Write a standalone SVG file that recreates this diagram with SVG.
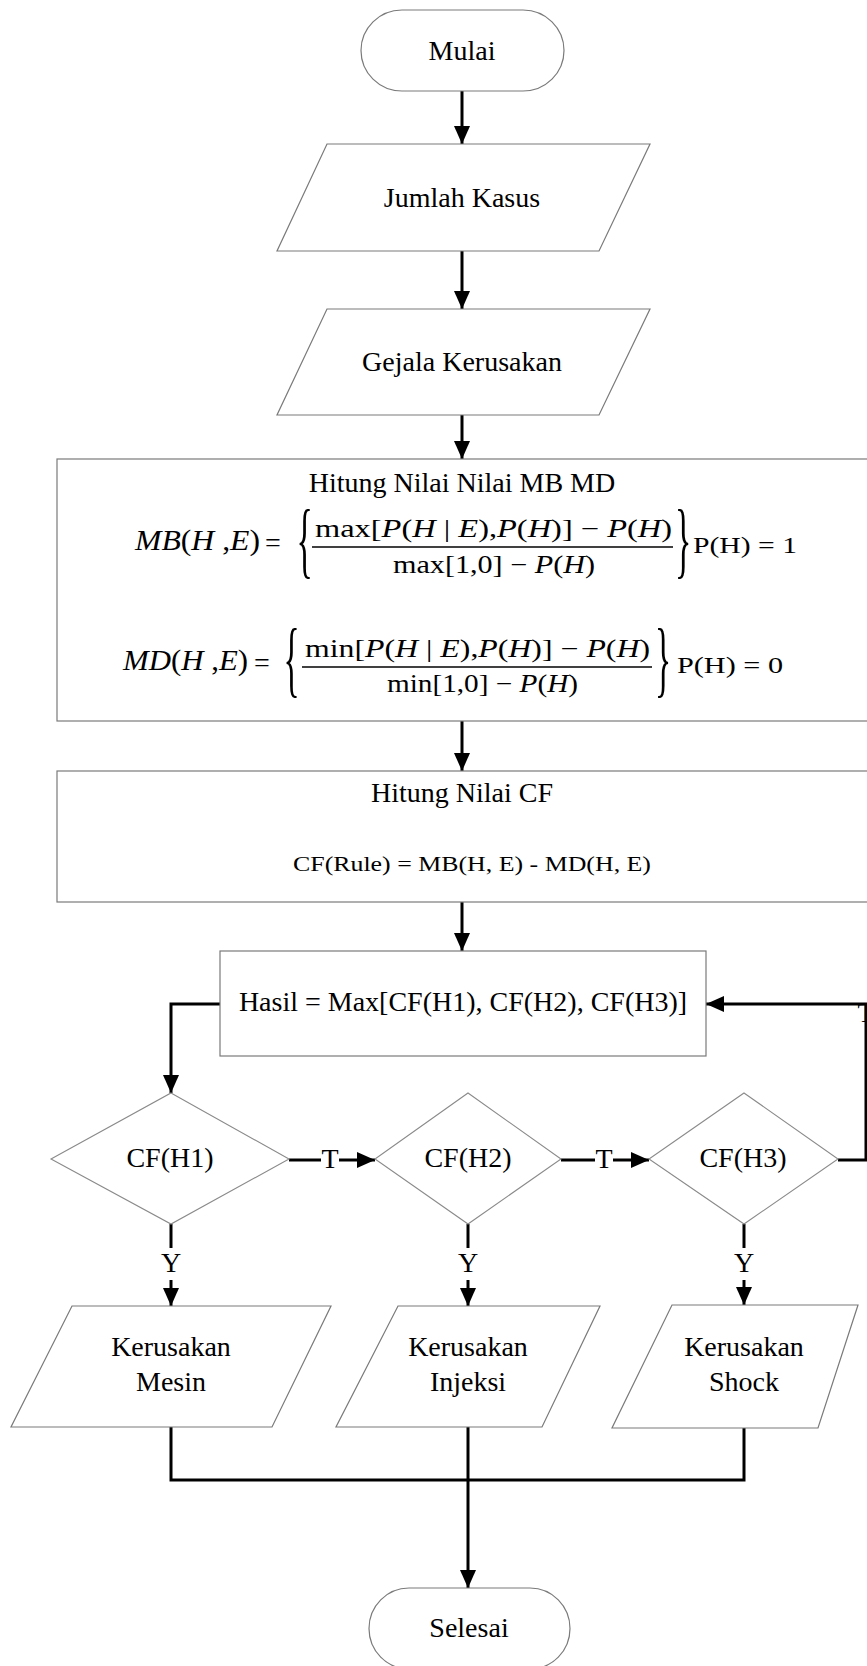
<svg xmlns="http://www.w3.org/2000/svg" width="867" height="1666" viewBox="0 0 867 1666">
<style>
.shape{fill:#fff;stroke:#7a7a7a;stroke-width:1.2}
.dia{fill:#fff;stroke:#8a8a8a;stroke-width:1.1}
.t{font-family:"Liberation Serif","Times New Roman",serif;font-size:28px;fill:#000;text-anchor:middle}
.m{font-family:"Liberation Serif","Times New Roman",serif;fill:#000}
.i{font-style:italic}
.c{fill:none;stroke:#000;stroke-width:3}
.bar{stroke:#000;stroke-width:1.6}
</style>
<defs>
<marker id="ah" markerUnits="userSpaceOnUse" markerWidth="18" markerHeight="16" refX="18" refY="8" orient="auto">
<path d="M0,0 L18,8 L0,16 Z" fill="#000"/>
</marker>
</defs>
<rect width="867" height="1666" fill="#fff"/>

<g id="connectors">
<line class="c" x1="462" y1="91" x2="462" y2="144" marker-end="url(#ah)"/>
<line class="c" x1="462" y1="251" x2="462" y2="309" marker-end="url(#ah)"/>
<line class="c" x1="462" y1="415" x2="462" y2="459" marker-end="url(#ah)"/>
<line class="c" x1="462" y1="721" x2="462" y2="771" marker-end="url(#ah)"/>
<line class="c" x1="462" y1="902" x2="462" y2="951" marker-end="url(#ah)"/>
<polyline class="c" points="220,1004 171,1004 171,1093" marker-end="url(#ah)"/>
<polyline class="c" points="838,1160 866,1160 866,1004 706,1004" marker-end="url(#ah)"/>
<line class="c" x1="289" y1="1160" x2="321" y2="1160"/>
<line class="c" x1="339" y1="1160" x2="375" y2="1160" marker-end="url(#ah)"/>
<line class="c" x1="561" y1="1160" x2="595" y2="1160"/>
<line class="c" x1="613" y1="1160" x2="649" y2="1160" marker-end="url(#ah)"/>
<line class="c" x1="171" y1="1224" x2="171" y2="1248"/>
<line class="c" x1="171" y1="1280" x2="171" y2="1306" marker-end="url(#ah)"/>
<line class="c" x1="468" y1="1224" x2="468" y2="1248"/>
<line class="c" x1="468" y1="1280" x2="468" y2="1306" marker-end="url(#ah)"/>
<line class="c" x1="744" y1="1224" x2="744" y2="1248"/>
<line class="c" x1="744" y1="1280" x2="744" y2="1305" marker-end="url(#ah)"/>
<polyline class="c" points="171,1427 171,1480 744,1480 744,1428"/>
<line class="c" x1="468" y1="1427" x2="468" y2="1588" marker-end="url(#ah)"/>
<text class="t" x="330" y="1168">T</text>
<text class="t" x="604" y="1168">T</text>
<text class="t" x="866" y="1022">T</text>
<text class="t" x="171" y="1272">Y</text>
<text class="t" x="468" y="1272">Y</text>
<text class="t" x="744" y="1272">Y</text>
</g>

<g id="mulai">
<path class="shape" d="M402,10 H523 A41,40.5 0 0 1 523,91 H402 A41,40.5 0 0 1 402,10 Z"/>
<text class="t" x="462" y="60">Mulai</text>
</g>

<g id="jumlah-kasus">
<polygon class="shape" points="327,144 650,144 599,251 277,251"/>
<text class="t" x="462" y="207">Jumlah Kasus</text>
</g>

<g id="gejala-kerusakan">
<polygon class="shape" points="327,309 650,309 599,415 277,415"/>
<text class="t" x="462" y="371">Gejala Kerusakan</text>
</g>

<g id="hitung-mb-md">
<rect class="shape" x="57" y="459" width="820" height="262"/>
<text class="t" x="462" y="492">Hitung Nilai Nilai MB MD</text>
<text class="m" x="135" y="550" font-size="30" textLength="125" lengthAdjust="spacingAndGlyphs"><tspan class="i">MB</tspan>(<tspan class="i">H</tspan> ,<tspan class="i">E</tspan>)</text>
<text class="m" x="265" y="552" font-size="28">=</text>
<text class="m" transform="translate(296.6,568) scale(0.4,1)" font-size="85">{</text>
<text class="m" x="315" y="537" font-size="25" textLength="357" lengthAdjust="spacingAndGlyphs">max[<tspan class="i">P</tspan>(<tspan class="i">H</tspan> | <tspan class="i">E</tspan>),<tspan class="i">P</tspan>(<tspan class="i">H</tspan>)] − <tspan class="i">P</tspan>(<tspan class="i">H</tspan>)</text>
<line class="bar" x1="312" y1="547" x2="673" y2="547"/>
<text class="m" x="393" y="573" font-size="25" textLength="202" lengthAdjust="spacingAndGlyphs">max[1,0] − <tspan class="i">P</tspan>(<tspan class="i">H</tspan>)</text>
<text class="m" transform="translate(675,568) scale(0.4,1)" font-size="85">}</text>
<text class="m" x="693" y="553" font-size="23" textLength="104" lengthAdjust="spacingAndGlyphs">P(H) = 1</text>

<text class="m" x="123" y="670" font-size="30" textLength="125" lengthAdjust="spacingAndGlyphs"><tspan class="i">MD</tspan>(<tspan class="i">H</tspan> ,<tspan class="i">E</tspan>)</text>
<text class="m" x="254" y="672" font-size="28">=</text>
<text class="m" transform="translate(283.6,687) scale(0.4,1)" font-size="84">{</text>
<text class="m" x="305" y="657" font-size="25" textLength="345" lengthAdjust="spacingAndGlyphs">min[<tspan class="i">P</tspan>(<tspan class="i">H</tspan> | <tspan class="i">E</tspan>),<tspan class="i">P</tspan>(<tspan class="i">H</tspan>)] − <tspan class="i">P</tspan>(<tspan class="i">H</tspan>)</text>
<line class="bar" x1="302" y1="667" x2="652" y2="667"/>
<text class="m" x="387" y="692" font-size="25" textLength="191" lengthAdjust="spacingAndGlyphs">min[1,0] − <tspan class="i">P</tspan>(<tspan class="i">H</tspan>)</text>
<text class="m" transform="translate(655,687) scale(0.4,1)" font-size="84">}</text>
<text class="m" x="677" y="673" font-size="23" textLength="106" lengthAdjust="spacingAndGlyphs">P(H) = 0</text>
</g>

<g id="hitung-cf">
<rect class="shape" x="57" y="771" width="820" height="131"/>
<text class="t" x="462" y="802">Hitung Nilai CF</text>
<text class="m" x="293" y="871" font-size="22" textLength="358" lengthAdjust="spacingAndGlyphs">CF(Rule) = MB(H, E) - MD(H, E)</text>
</g>

<g id="hasil">
<rect class="shape" x="220" y="951" width="486" height="105"/>
<text class="t" x="463" y="1011">Hasil = Max[CF(H1), CF(H2), CF(H3)]</text>
</g>

<g id="cf-h1">
<polygon class="dia" points="171,1093 289,1159 171,1224 51,1159"/>
<text class="t" x="170" y="1167">CF(H1)</text>
</g>
<g id="cf-h2">
<polygon class="dia" points="468,1093 561,1159 468,1224 375,1159"/>
<text class="t" x="468" y="1167">CF(H2)</text>
</g>
<g id="cf-h3">
<polygon class="dia" points="744,1093 838,1159 744,1224 649,1159"/>
<text class="t" x="743" y="1167">CF(H3)</text>
</g>

<g id="kerusakan-mesin">
<polygon class="shape" points="72,1306 331,1306 272,1427 11,1427"/>
<text class="t" x="171" y="1356">Kerusakan</text>
<text class="t" x="171" y="1391">Mesin</text>
</g>
<g id="kerusakan-injeksi">
<polygon class="shape" points="398,1306 600,1306 542,1427 336,1427"/>
<text class="t" x="468" y="1356">Kerusakan</text>
<text class="t" x="468" y="1391">Injeksi</text>
</g>
<g id="kerusakan-shock">
<polygon class="shape" points="672,1305 858,1305 818,1428 612,1428"/>
<text class="t" x="744" y="1356">Kerusakan</text>
<text class="t" x="744" y="1391">Shock</text>
</g>

<g id="selesai">
<path class="shape" d="M409,1588 H530 A40,40.5 0 0 1 530,1669 H409 A40,40.5 0 0 1 409,1588 Z"/>
<text class="t" x="469" y="1637">Selesai</text>
</g>
</svg>
